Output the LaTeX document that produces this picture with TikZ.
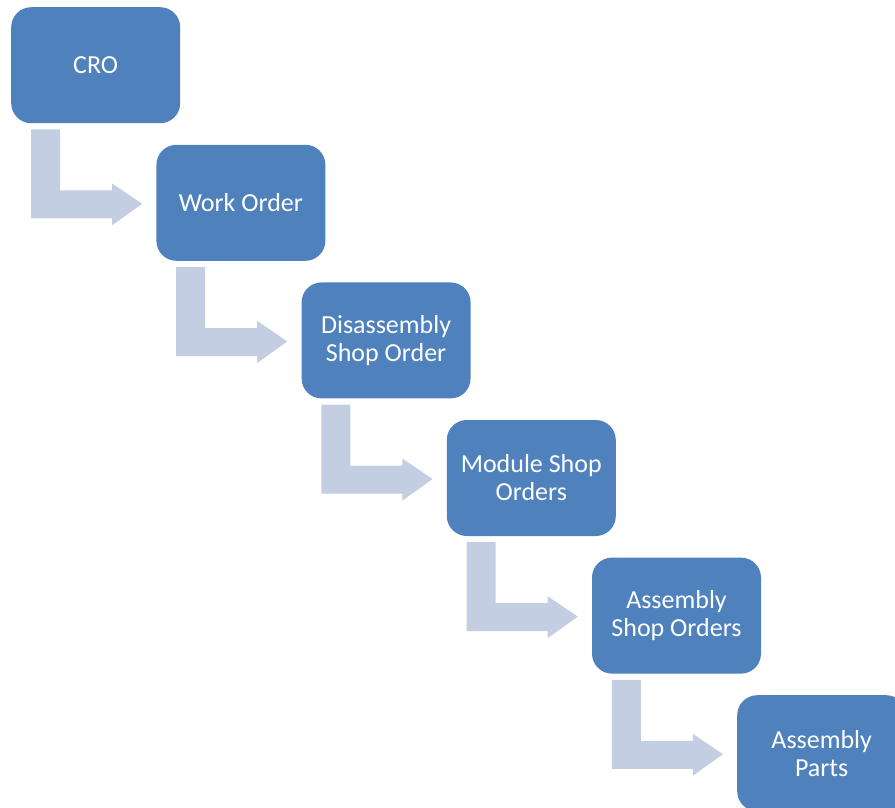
\documentclass[tikz,border=0pt]{standalone}
\usepackage{fontspec}
\setmainfont{Carlito}
\definecolor{boxblue}{HTML}{4F81BD}
\definecolor{arrowblue}{HTML}{C3CEE2}
\begin{document}
\begin{tikzpicture}[x=1pt,y=-1pt,
  stage/.style={rectangle, rounded corners=20pt, fill=boxblue, text=white,
    minimum width=169pt, minimum height=116pt, align=center, anchor=north west,
    inner sep=0pt, font=\fontsize{26}{28}\selectfont},
  flow/.style={fill=arrowblue, draw=none}]
\useasboundingbox (0,0) rectangle (895,807);
\clip (0,0) rectangle (895,807);

% process stages, stepping down and to the right
\node[stage] (b1) at (11,7)        {CRO};
\node[stage] (b2) at (156.2,144.6) {Work Order};
\node[stage] (b3) at (301.4,282.2) {Disassembly\\Shop Order};
\node[stage] (b4) at (446.6,419.8) {Module Shop\\Orders};
\node[stage] (b5) at (591.8,557.4) {Assembly\\Shop Orders};
\node[stage] (b6) at (737,695)     {Assembly\\Parts};

% bent block arrows from each stage to the next
\foreach \a/\b in {b1/b2, b2/b3, b3/b4, b4/b5, b5/b6}{
  \fill[flow]
    ([shift={(20pt,-6pt)}]\a.south west) --
    ([shift={(49pt,-6pt)}]\a.south west) --
    ([shift={(49pt,-67pt)}]\a.south west) --
    ([shift={(101pt,-67pt)}]\a.south west) --
    ([shift={(101pt,-60pt)}]\a.south west) --
    ([shift={(-14pt,-1pt)}]\b.west) --
    ([shift={(101pt,-102pt)}]\a.south west) --
    ([shift={(101pt,-95pt)}]\a.south west) --
    ([shift={(20pt,-95pt)}]\a.south west) -- cycle;
}
\end{tikzpicture}
\end{document}
